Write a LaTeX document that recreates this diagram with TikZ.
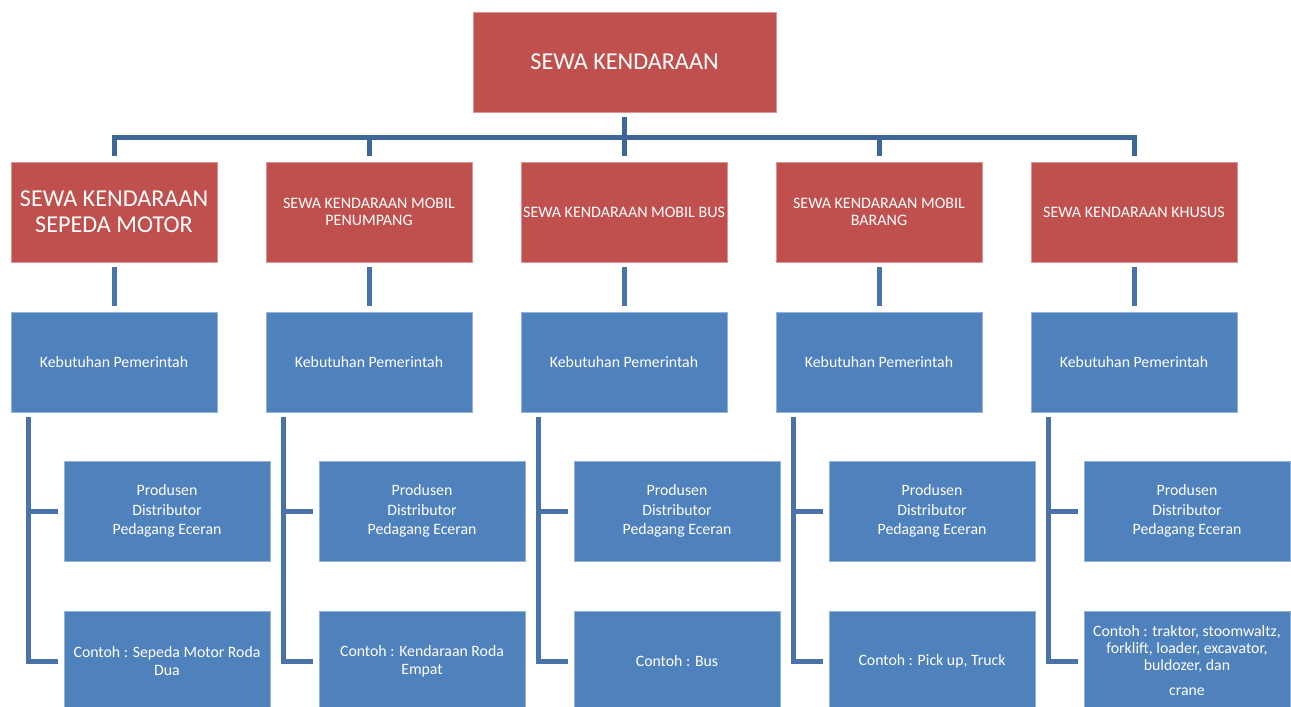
\documentclass[tikz,border=0pt]{standalone}
\usepackage{fontspec}
\setmainfont{Carlito}
\usetikzlibrary{positioning}
\definecolor{sewared}{HTML}{C0504D}
\definecolor{sewablue}{HTML}{4F81BD}
\definecolor{barblue}{HTML}{3E6697}
\definecolor{lineblue}{HTML}{4A73AA}

\begin{document}
\begin{tikzpicture}[x=1pt, y=-1pt]
    \tikzstyle{every node}=[align=center, text=white, inner sep=0pt]
    \tikzstyle{redbox}=[fill=sewared, draw=sewared!60!white, line width=0.8pt,
        minimum width=206pt, minimum height=100pt, font=\fontsize{16}{17.5}\selectfont]
    \tikzstyle{bluebox}=[redbox, fill=sewablue, draw=sewablue!60!white, font=\fontsize{15.8}{19.5}\selectfont]
    \tikzstyle{bar}=[draw=barblue, line width=5pt, shorten <=5pt, shorten >=6pt]
    \tikzstyle{link}=[draw=lineblue, line width=5pt, shorten <=5pt, shorten >=6pt]
    \useasboundingbox (0,0) rectangle (1291,707);
    \node[redbox, minimum width=303pt, font=\fontsize{24.2}{26}\selectfont] (top) at (624.5,62) {SEWA KENDARAAN};
    \node[redbox, font=\fontsize{24.2}{26}\selectfont] (sewa1) at (114,212) {SEWA KENDARAAN\\SEPEDA MOTOR};
    \node[redbox] (sewa2) at (369,212) {SEWA KENDARAAN MOBIL\\PENUMPANG};
    \node[redbox] (sewa3) at (624,212) {SEWA KENDARAAN MOBIL BUS};
    \node[redbox] (sewa4) at (879,212) {SEWA KENDARAAN MOBIL\\BARANG};
    \node[redbox] (sewa5) at (1134,212) {SEWA KENDARAAN KHUSUS};
    \foreach \i/\x in {1/114, 2/369, 3/624, 4/879, 5/1134} {
        \node[bluebox] (butuh\i) at (\x,362) {Kebutuhan Pemerintah};
        \node[bluebox] (pelaku\i) at (\x+53,511) {Produsen\\Distributor\\Pedagang Eceran};
    }
    \node[bluebox, font=\fontsize{15.8}{18}\selectfont] (contoh1) at (167,661) {Contoh : Sepeda Motor Roda\\Dua};
    \node[bluebox, font=\fontsize{15.8}{18}\selectfont] (contoh2) at (422,661) {Contoh : Kendaraan Roda\\Empat};
    \node[bluebox] (contoh3) at (677,661) {Contoh : Bus};
    \node[bluebox] (contoh4) at (932,661) {Contoh : Pick up, Truck};
    \node[bluebox, font=\fontsize{15.8}{17}\selectfont] (contoh5) at (1187,661)
        {Contoh : traktor, stoomwaltz,\\forklift, loader, excavator,\\buldozer, dan\\[8pt]crane};
    \foreach \i in {1,...,5} {
        \draw[bar] (top.south) -- ++(0,25) -| (sewa\i.north);
        \draw[link] (sewa\i) -- (butuh\i);
        \coordinate (rail\i) at ([xshift=18pt]butuh\i.south west);
        \draw[link] (rail\i) |- (contoh\i.west);
        \draw[link, shorten <=0pt] (rail\i |- pelaku\i.west) -- (pelaku\i.west);
    }
\end{tikzpicture}
\end{document}
